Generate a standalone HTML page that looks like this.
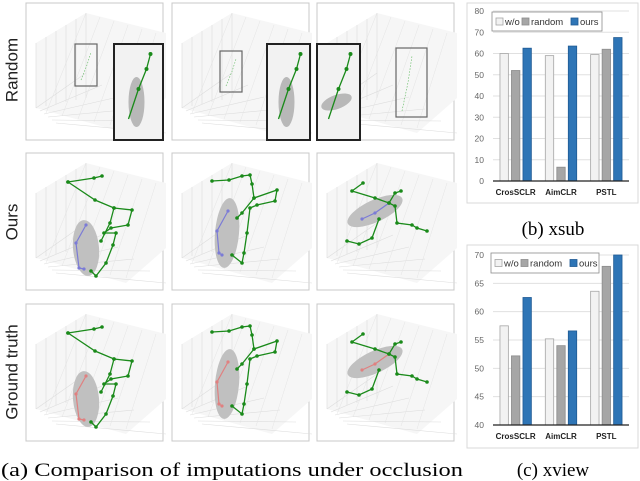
<!DOCTYPE html>
<html><head><meta charset="utf-8">
<style>
html,body{margin:0;padding:0;background:#fff;}
body{width:640px;height:481px;overflow:hidden;position:relative;}
svg{position:absolute;left:0;top:0;}
</style></head>
<body>
<svg id="fig" width="640" height="481" viewBox="0 0 640 481" xmlns="http://www.w3.org/2000/svg">
  <g id="left"></g>
  <text x="12" y="70" transform="rotate(-90 12 70)" text-anchor="middle" dominant-baseline="central" font-family="Liberation Sans, sans-serif" font-size="17" fill="#222">Random</text>
  <text x="12" y="222" transform="rotate(-90 12 222)" text-anchor="middle" dominant-baseline="central" font-family="Liberation Sans, sans-serif" font-size="17" fill="#222">Ours</text>
  <text x="12" y="372" transform="rotate(-90 12 372)" text-anchor="middle" dominant-baseline="central" font-family="Liberation Sans, sans-serif" font-size="17" fill="#222">Ground truth</text>
  <text x="1" y="476" textLength="462" lengthAdjust="spacingAndGlyphs" font-family="Liberation Serif, serif" font-size="19" fill="#000">(a) Comparison of imputations under occlusion</text>
  <g id="chartB"></g>
  <g id="chartC"></g>
  <text x="553" y="235" text-anchor="middle" font-family="Liberation Serif, serif" font-size="19" fill="#000">(b) xsub</text>
  <text x="553" y="476" text-anchor="middle" font-family="Liberation Serif, serif" font-size="19" fill="#000">(c) xview</text>
</svg>
<script>
const categories = ["CrosSCLR","AimCLR","PSTL"];
const seriesNames = ["w/o","random","ours"];
const xsubWo = [60, 59, 59.5];
const xsubRandom = [52, 6.5, 62];
const xsubOurs = [62.5, 63.5, 67.5];
const xsubTicks = [0,10,20,30,40,50,60,70,80];
const xviewWo = [57.5, 55.2, 63.6];
const xviewRandom = [52.2, 54, 68];
const xviewOurs = [62.5, 56.6, 70];
const xviewTicks = [40,45,50,55,60,65,70];

const NS = "http://www.w3.org/2000/svg";
function mk(tag, attrs, parent){
  const e = document.createElementNS(NS, tag);
  for (const k in attrs) e.setAttribute(k, attrs[k]);
  parent.appendChild(e);
  return e;
}
const fills = ["#f2f2f2","#a6a6a6","#2e75b6"];
const strokes = ["#a6a6a6","#8c8c8c","#1f5a94"];

function drawChart(g, box, ticks, series, legendBox){
  const fr = mk("rect",{x:box.x0,y:box.y0,width:box.x1-box.x0,height:box.y1-box.y0,fill:"#fff",stroke:"#d9d9d9","stroke-width":1},g);
  
  
  const vmin = ticks[0], vmax = ticks[ticks.length-1];
  const y = v => box.pyBottom - (v - vmin) / (vmax - vmin) * (box.pyBottom - box.pyTop);
  const bandW = (box.px1 - box.px0) / categories.length;
  const xc = i => box.px0 + bandW * (i + 0.5);
  ticks.forEach(t => {
    const gl = mk("line",{x1:box.px0,x2:box.px1,y1:y(t),y2:y(t),stroke:"#e0e0e0","stroke-width":1},g);
    
    
    const tl = mk("text",{x:box.px0-9,y:y(t)+3,"text-anchor":"end","font-family":"Liberation Sans, sans-serif","font-size":"8.5",fill:"#666"},g);
    tl.textContent = t;
    
    
  });
  series.forEach((vals, s) => {
    vals.forEach((v, i) => {
      const bx = xc(i) + (s - 1) * 11.5 - 4.2;
      const b = mk("rect",{x:bx,y:y(v),width:8.4,height:y(vmin)-y(v),fill:fills[s],stroke:strokes[s],"stroke-width":0.8},g);
      
      
    });
  });
  const ax = mk("line",{x1:box.px0,x2:box.px1,y1:y(vmin),y2:y(vmin),stroke:"#222","stroke-width":1.3},g);
  
  
  categories.forEach((c,i) => {
    const cl = mk("text",{x:xc(i),y:y(vmin)+14,"text-anchor":"middle","font-family":"Liberation Sans, sans-serif","font-size":"8","font-weight":"bold",fill:"#222"},g);
    cl.textContent = c;
    
    
  });
  const lg = mk("g",{},g);
  
  
  mk("rect",{x:legendBox.x,y:legendBox.y,width:legendBox.w,height:legendBox.h,fill:"#fff",stroke:"#8c8c8c","stroke-width":0.8},lg);
  const offs = [4, 30, 79];
  seriesNames.forEach((n,s) => {
    const lx = legendBox.x + offs[s], ly = legendBox.y + legendBox.h/2;
    const sw = mk("rect",{x:lx,y:ly-3.5,width:7,height:7,fill:fills[s],stroke:strokes[s],"stroke-width":0.8},lg);
    
    
    const lt = mk("text",{x:lx+9,y:ly+3.5,"font-family":"Liberation Sans, sans-serif","font-size":"9.5",fill:"#333"},lg);
    lt.textContent = n;
    
    
  });
}
drawChart(document.getElementById("chartB"),
  {x0:467,y0:3,x1:638,y1:203,px0:493,px1:629,pyTop:11,pyBottom:181},
  xsubTicks, [xsubWo,xsubRandom,xsubOurs], {x:492,y:12,w:110,h:19});
drawChart(document.getElementById("chartC"),
  {x0:467,y0:245,x1:638,y1:448,px0:493,px1:629,pyTop:255,pyBottom:425},
  xviewTicks, [xviewWo,xviewRandom,xviewOurs], {x:491,y:253,w:108,h:20});

// Left 3D panels (illustrative)
const L = document.getElementById("left");
const colX = [26,172,317], rowY = [3,153,304];
const skel = [
  {green:[[[42,29],[68,25],[76,23]],[[42,29],[69,47],[88,55],[106,57],[102,72],[85,75],[78,80],[90,80],[87,92],[80,110],[70,123],[65,118]],[[88,55],[84,70],[75,88]]],
   limb:[[60,72],[50,90],[53,115],[58,116]], ell:[60,95,13,28,-5]},
  {green:[[[40,28],[57,27],[70,23],[78,22],[80,31],[82,45],[105,37],[103,48],[85,52],[78,55],[75,80],[72,100],[70,110],[60,102]],[[82,45],[70,60],[65,65]]],
   limb:[[56,58],[45,78],[47,100],[50,102]], ell:[55,80,12,35,5]},
  {green:[[[46,30],[35,38],[58,45],[72,50],[78,40],[84,38]],[[72,50],[78,53],[80,70],[95,72],[100,75],[110,78]],[[62,66],[55,85],[42,91],[30,88]]],
   limb:[[72,50],[58,60],[45,66]], ell:[58,58,30,11,-25]}
];
rowY.forEach((ry, r) => {
  colX.forEach((cx, c) => {
    const g = mk("g",{transform:`translate(${cx},${ry})`},L);
    
    
    mk("rect",{x:0,y:0,width:137,height:137,fill:"#fff",stroke:"#c8c8c8","stroke-width":1},g);
    // faint 3D grid
    mk("polygon",{points:"10,40 60,10 140,30 140,95 100,130 10,105",fill:"#f6f6f6",stroke:"none"},g);
    for (let k=0;k<6;k++){
      mk("line",{x1:10+k*10,y1:40-k*6+0,x2:10+k*10,y2:105-k*2,stroke:"#ddd","stroke-width":0.6},g);
      mk("line",{x1:10+k*4,y1:105+k*3,x2:60+k*16,y2:70+k*12,stroke:"#ddd","stroke-width":0.6},g);
      mk("line",{x1:60+k*14,y1:10+k*4,x2:20+k*16,y2:110+k*3,stroke:"#e4e4e4","stroke-width":0.5},g);
    }
    if (r === 0) {
      const sc = [[49,41,22,42],[48,48,22,41],[79,45,31,69]][c];
      mk("rect",{x:sc[0],y:sc[1],width:sc[2],height:sc[3],fill:"none",stroke:"#666","stroke-width":1.2},g);
      mk("polyline",{points:`${sc[0]+6},${sc[1]+sc[3]-6} ${sc[0]+12},${sc[1]+sc[3]/2} ${sc[0]+16},${sc[1]+8}`,fill:"none",stroke:"#5cb85c","stroke-width":0.6,"stroke-dasharray":"1.5 1.5"},g);
      const ib = [[88,41,49,96],[95,41,43,96],[0,41,43,96]][c];
      mk("rect",{x:ib[0],y:ib[1],width:ib[2],height:ib[3],fill:"#f2f2f2",stroke:"#222","stroke-width":2},g);
      const ex = ib[0]+ib[2]/2;
      mk("ellipse",{cx:ex-2,cy:ib[1]+58,rx:c===2?16:8,ry:c===2?7:25,fill:"#b8b8b8",transform:c===2?`rotate(-20 ${ex-2} ${ib[1]+58})`:""},g);
      mk("polyline",{points:`${ex-10},${ib[1]+75} ${ex},${ib[1]+45} ${ex+8},${ib[1]+25} ${ex+12},${ib[1]+10}`,fill:"none",stroke:"#1a8a1a","stroke-width":1.3},g);
      [[ex+8,ib[1]+25],[ex+12,ib[1]+10],[ex,ib[1]+45]].forEach(p=>mk("circle",{cx:p[0],cy:p[1],r:2,fill:"#1a8a1a"},g));
    } else {
      const s = skel[c];
      const e = s.ell;
      mk("ellipse",{cx:e[0],cy:e[1],rx:e[2],ry:e[3],fill:"#c0c0c0",transform:`rotate(${e[4]} ${e[0]} ${e[1]})`},g);
      const lc = r===1 ? "#7b7bd6" : "#e08080";
      mk("polyline",{points:s.limb.map(p=>p.join(",")).join(" "),fill:"none",stroke:lc,"stroke-width":1.2},g);
      s.limb.forEach(p=>mk("circle",{cx:p[0],cy:p[1],r:1.6,fill:lc},g));
      s.green.forEach(path => {
        mk("polyline",{points:path.map(p=>p.join(",")).join(" "),fill:"none",stroke:"#1a8a1a","stroke-width":1.3},g);
        path.forEach(p=>mk("circle",{cx:p[0],cy:p[1],r:1.8,fill:"#1a8a1a"},g));
      });
    }
  });
});
</script>
</body></html>
